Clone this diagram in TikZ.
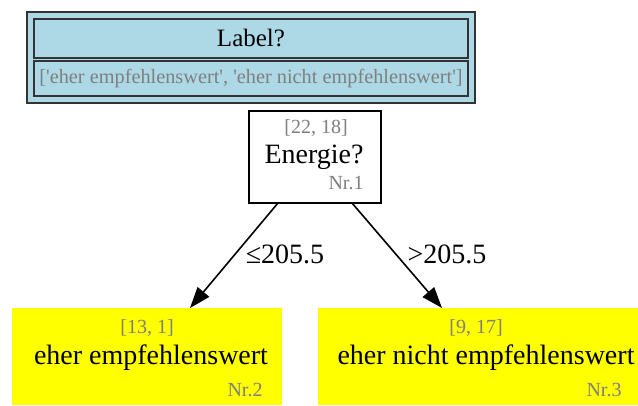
\documentclass[tikz,border=0pt]{standalone}
\usepackage{fontspec}
\setmainfont{Liberation Serif}
\newfontfamily\rawserif[Ligatures=TeXOff]{Liberation Serif}
\usetikzlibrary{arrows.meta,calc}
\definecolor{lblue}{HTML}{ADD8E6}
\definecolor{gtxt}{HTML}{7F7F7F}
\definecolor{bord}{HTML}{333333}
\definecolor{leafy}{HTML}{FFFF00}
\tikzset{
  box/.style={draw, rectangle, inner sep=0pt, outer sep=0pt},
  bigtxt/.style={font=\fontsize{28}{30}\selectfont, inner sep=0pt},
  smalltxt/.style={font=\fontsize{20}{22}\selectfont, text=gtxt, inner sep=0pt},
  leaf/.style={box, draw=none, fill=leafy},
  arr/.style={draw=black, line width=1.6pt, -{Triangle[length=21pt,width=15pt]}},
  elabel/.style={font=\fontsize{28}{30}\selectfont, inner sep=0pt}
}
\begin{document}
\begin{tikzpicture}[x=1pt,y=-1pt]
\useasboundingbox (0,0) rectangle (638,405);
% legend box
\node[box, fill=lblue, draw=bord, line width=2.2pt, minimum width=448pt, minimum height=91pt] (lg) at (251,57.5) {};
\node[box, fill=lblue, draw=bord, line width=2.2pt, minimum width=434pt, minimum height=39pt] (lg1) at (251,38.5) {};
\node[box, fill=lblue, draw=bord, line width=2.2pt, minimum width=434pt, minimum height=35pt] (lg2) at (251,78.5) {};
\node[font=\fontsize{25}{27}\selectfont, inner sep=0pt] (lgt) at (lg1.center) {Label?};
\node[smalltxt, font=\rawserif\fontsize{20.3}{22}\selectfont] (lgs) at (lg2.center) {['eher empfehlenswert', 'eher nicht empfehlenswert']};
% root
\node[box, draw=black, line width=1.6pt, fill=white, minimum width=132pt, minimum height=92pt] (e) at (315,157) {};
\node[smalltxt] (ec) at (316,128) {[22, 18]};
\node[bigtxt] (et) at (314,157) {Energie?};
\node[smalltxt] (en) at (346,183) {Nr.1};
% leaves
\node[leaf, minimum width=270pt, minimum height=97pt] (l) at (147,356.5) {};
\node[smalltxt] (lc) at (147,328) {[13, 1]};
\node[bigtxt] (lt) at (151,358) {eher empfehlenswert};
\node[smalltxt] (ln) at (245,390) {Nr.2};
\node[leaf, minimum width=320pt, minimum height=97pt] (r) at (478,356.5) {};
\node[smalltxt] (rc) at (476,328) {[9, 17]};
\node[bigtxt] (rt) at (486,358) {eher nicht empfehlenswert};
\node[smalltxt] (rn) at (604,390) {Nr.3};
% edges
\draw[arr] (e.south -| 278,0) -- (l.north -| 190,0);
\draw[arr] (e.south -| 352,0) -- (r.north -| 442,0);
\node[elabel] (la) at (285,254) {≤205.5};
\node[elabel] (ra) at (447,254) {>205.5};
\end{tikzpicture}
\end{document}
